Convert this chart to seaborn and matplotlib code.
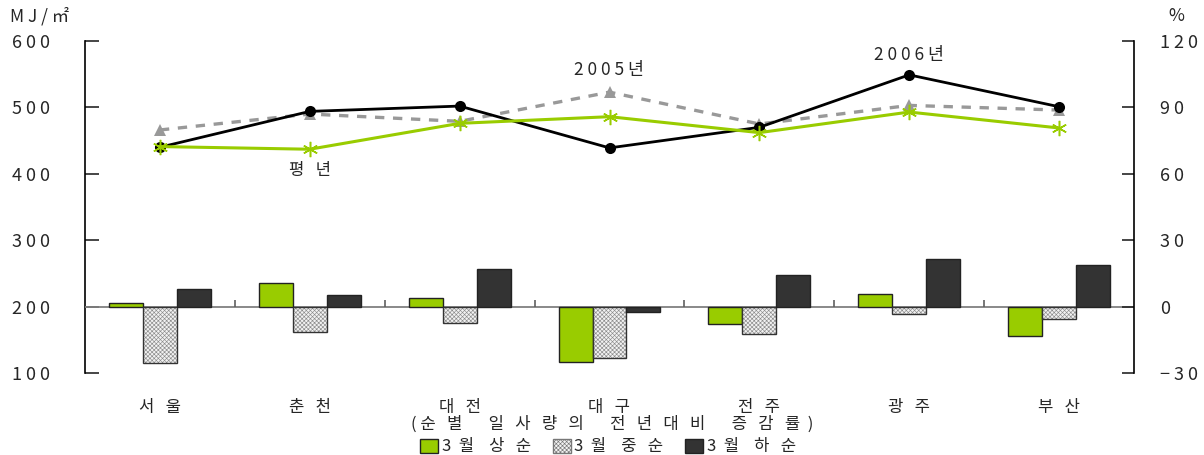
import numpy as np
import pandas as pd
import matplotlib
matplotlib.use('Agg')
import matplotlib.pyplot as plt
import matplotlib.colors as mcolors
from matplotlib.patches import Patch
from matplotlib.ticker import FuncFormatter
import seaborn as sns

# data
cities = ['서울', '춘천', '대전', '대구', '전주', '광주', '부산']
normal = [441, 437, 476, 486, 462, 493, 469]      # 평년 (MJ/㎡)
y2005 = [466, 490, 479, 523, 475, 503, 496]       # 2005년
y2006 = [440, 494, 502, 439, 470, 549, 501]       # 2006년
early = [1.6, 10.6, 3.7, -25.1, -7.7, 5.9, -13.1]   # 3월 상순 (%)
mid = [-25.6, -11.3, -7.2, -23.1, -12.2, -3.2, -5.7]  # 3월 중순 (%)
late = [7.9, 5.1, 17.0, -2.3, 14.4, 21.7, 19.0]     # 3월 하순 (%)
dekads = ['3월 상순', '3월 중순', '3월 하순']

sns.set_style('white')
plt.rcParams['font.family'] = ['Noto Sans CJK KR', 'DejaVu Sans']
plt.rcParams['axes.unicode_minus'] = True
plt.rcParams['hatch.linewidth'] = 0.45

GREEN = '#99cc00'
DARK = '#333333'
HATCH_FACE = '#f2f2f2'
HATCH_COL = mcolors.to_rgba('#8c8c8c')

bars = pd.DataFrame({
    'city': cities * 3,
    'dekad': [dekads[0]] * 7 + [dekads[1]] * 7 + [dekads[2]] * 7,
    'pct': early + mid + late,
})

def spaced(s, sep=' '):
    return sep.join(s)

fig = plt.figure(figsize=(12.04, 4.55), dpi=100)
ax = fig.add_axes([85 / 1204, 1 - 373 / 455, (1134 - 85) / 1204, (373 - 41) / 455])
ax2 = ax.twinx()

# bars: % change, right axis
ax2.axhline(0, color='#808080', lw=1.3, zorder=0.5)
ax2.vlines(np.arange(0.5, 6.5), 0, 3.2, color='#606060', lw=1.2, zorder=0.5)
sns.barplot(data=bars, x='city', y='pct', hue='dekad', order=cities,
            palette=[GREEN, HATCH_FACE, DARK], saturation=1, width=0.68, gap=0,
            edgecolor='#222222', linewidth=1.0, legend=False, ax=ax2, zorder=2)
for p in ax2.patches[7:14]:
    p.set_hatch('xxxxxxxx')
    p.set_edgecolor('#333333')
    p._hatch_color = HATCH_COL

# lines: MJ/㎡, left axis
x = np.arange(len(cities))
sns.lineplot(x=x, y=y2005, ax=ax, color='#999999', lw=2.4, marker='^',
             markersize=8, markeredgewidth=0, linestyle='--')
ax.lines[-1].set_dashes([2.8, 2.6])
sns.lineplot(x=x, y=y2006, ax=ax, color='black', lw=2.0, marker='o',
             markersize=8, markeredgewidth=0)
sns.lineplot(x=x, y=normal, ax=ax, color=GREEN, lw=2.2, marker=(6, 2, 0),
             markersize=11, markeredgewidth=1.1, markeredgecolor=GREEN)

ax.text(3, 556, spaced('2005년'), ha='center', va='center', fontsize=12.5)
ax.text(5, 579, spaced('2006년'), ha='center', va='center', fontsize=12.5)
ax.text(1, 405, '평   년', ha='center', va='center', fontsize=12)

# axes
ax.set_xlim(-0.5, 6.5)
ax.set_ylim(100, 600)
ax.set_yticks(range(100, 601, 100))
ax2.set_ylim(-30, 120)
ax2.set_yticks(range(-30, 121, 30))
fmt = FuncFormatter(lambda v, _: spaced(str(int(v))).replace('- ', '− '))
ax.yaxis.set_major_formatter(fmt)
ax2.yaxis.set_major_formatter(fmt)

ax.set_xticks(x)
ax.set_xticklabels([spaced(c, '   ') for c in cities], fontsize=12)
ax.tick_params(axis='x', length=0, pad=19)
ax.tick_params(axis='y', direction='in', length=10, width=1.2, pad=25, labelsize=13)
ax2.tick_params(axis='y', direction='in', length=9, width=1.2, pad=19, labelsize=13)
ax.set_xlabel('')
ax.set_ylabel('')
ax2.set_xlabel('')
ax2.set_ylabel('')

for side in ['top', 'bottom', 'right']:
    ax.spines[side].set_visible(False)
for side in ['top', 'bottom', 'left']:
    ax2.spines[side].set_visible(False)
ax.spines['left'].set_color('black')
ax.spines['left'].set_linewidth(1.2)
ax2.spines['right'].set_color('black')
ax2.spines['right'].set_linewidth(1.2)

fig.text(10 / 1204, 1 - 16 / 455, 'M J / ㎡', ha='left', va='center', fontsize=12.5)
fig.text(1176 / 1204, 1 - 16 / 455, '%', ha='center', va='center', fontsize=12.5)
subtitle = '( ' + '       '.join(spaced(w, '   ') for w in ['순별', '일사량의', '전년대비', '증감률']) + '  )'
fig.text(612 / 1204, 1 - 424 / 455, subtitle, ha='center', va='center', fontsize=12)

handles = [Patch(facecolor=GREEN, edgecolor='#222222'),
           Patch(facecolor=HATCH_FACE, edgecolor='#777777', hatch='xxxxxxxx'),
           Patch(facecolor=DARK, edgecolor='#222222')]
fig.legend(handles, ['3  월    상   순', '3  월    중   순', '3  월    하   순'], loc='center',
           bbox_to_anchor=(608 / 1204, 1 - 447 / 455), ncol=3, frameon=False,
           fontsize=12, handlelength=1.1, handleheight=0.9, handletextpad=0.2,
           columnspacing=1.3, borderpad=0)

fig.savefig('out.png', dpi=100)
